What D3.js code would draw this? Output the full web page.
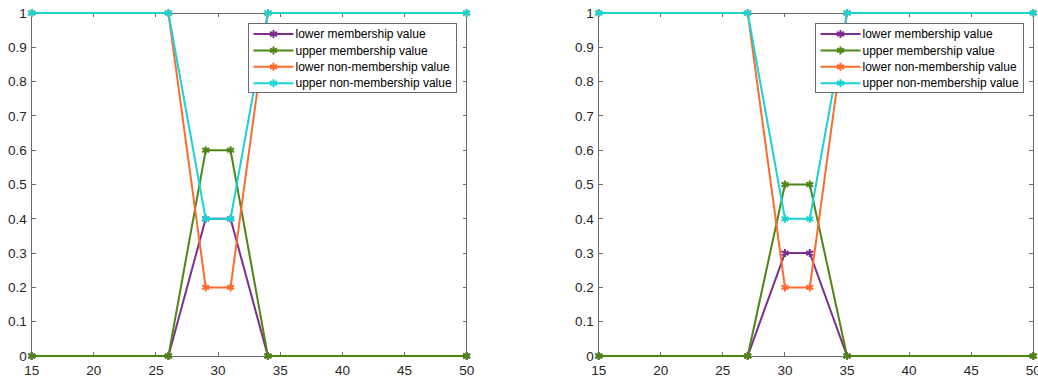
<!DOCTYPE html>
<html><head><meta charset="utf-8">
<script src="https://cdn.jsdelivr.net/npm/d3@7"></script>
<style>body{margin:0;background:#fff}svg{display:block}</style>
</head><body>
<svg id="c" width="1038" height="377"></svg>
<script>
// Left panel
const xLeft = [15, 26, 29, 31, 34, 50];
const lowerMemLeft = [0, 0, 0.4, 0.4, 0, 0];
const upperMemLeft = [0, 0, 0.6, 0.6, 0, 0];
const lowerNonLeft = [1, 1, 0.2, 0.2, 1, 1];
const upperNonLeft = [1, 1, 0.4, 0.4, 1, 1];
// Right panel
const xRight = [15, 27, 30, 32, 35, 50];
const lowerMemRight = [0, 0, 0.3, 0.3, 0, 0];
const upperMemRight = [0, 0, 0.5, 0.5, 0, 0];
const lowerNonRight = [1, 1, 0.2, 0.2, 1, 1];
const upperNonRight = [1, 1, 0.4, 0.4, 1, 1];

const seriesNames = ["lower membership value", "upper membership value", "lower non-membership value", "upper non-membership value"];
const seriesColors = ["#7E2F8E", "#4D8516", "#FF6B2C", "#1AD3D3"];
const xTicks = [15, 20, 25, 30, 35, 40, 45, 50];
const yTicks = [0, 0.1, 0.2, 0.3, 0.4, 0.5, 0.6, 0.7, 0.8, 0.9, 1];

const svg = d3.select("#c");
const axisColor = "#6b6b6b";
const font = "Liberation Sans, Arial, sans-serif";

function panel(left, right, xs, series, legendX) {
  const top = 13, bottom = 356;
  const x = d3.scaleLinear().domain([15, 50]).range([left, right]);
  const y = d3.scaleLinear().domain([0, 1]).range([bottom, top]);
  const g = svg.append("g");
  g.append("rect").attr("x", left).attr("y", top).attr("width", right - left).attr("height", bottom - top)
    .attr("fill", "none").attr("stroke", axisColor).attr("stroke-width", 1).attr("shape-rendering", "crispEdges");
  const tl = 4;
  xTicks.forEach(t => {
    g.append("line").attr("x1", x(t)).attr("x2", x(t)).attr("y1", bottom).attr("y2", bottom - tl)
      .attr("stroke", axisColor).attr("shape-rendering", "crispEdges");
    g.append("line").attr("x1", x(t)).attr("x2", x(t)).attr("y1", top).attr("y2", top + tl)
      .attr("stroke", axisColor).attr("shape-rendering", "crispEdges");
    g.append("text").attr("x", x(t)).attr("y", bottom + 19).attr("text-anchor", "middle")
      .attr("font-family", font).attr("font-size", 13.5).attr("fill", "#262626").text(t);
  });
  yTicks.forEach(t => {
    g.append("line").attr("x1", left).attr("x2", left + tl).attr("y1", y(t)).attr("y2", y(t))
      .attr("stroke", axisColor).attr("shape-rendering", "crispEdges");
    g.append("line").attr("x1", right).attr("x2", right - tl).attr("y1", y(t)).attr("y2", y(t))
      .attr("stroke", axisColor).attr("shape-rendering", "crispEdges");
    g.append("text").attr("x", left - 5).attr("y", y(t) + 4.7).attr("text-anchor", "end")
      .attr("font-family", font).attr("font-size", 13.5).attr("fill", "#262626").text(d3.format("")(t));
  });
  const line = d3.line().x(d => x(d[0])).y(d => y(d[1]));
  const sym = d3.symbol().type(d3.symbolAsterisk).size(45);
  series.forEach((vals, i) => {
    const pts = xs.map((xv, j) => [xv, vals[j]]);
    g.append("path").attr("d", line(pts)).attr("fill", "none")
      .attr("stroke", seriesColors[i]).attr("stroke-width", 2);
    pts.forEach(p => {
      g.append("path").attr("d", sym()).attr("transform", `translate(${x(p[0])},${y(p[1])})`)
        .attr("fill", "none").attr("stroke", seriesColors[i]).attr("stroke-width", 2);
    });
  });
  const lw = 208, lh = 69, ly = 23;
  const lg = g.append("g").attr("transform", `translate(${legendX},${ly})`);
  lg.append("rect").attr("x", 0).attr("y", 0).attr("width", lw).attr("height", lh)
    .attr("fill", "#fff").attr("stroke", axisColor).attr("shape-rendering", "crispEdges");
  seriesNames.forEach((n, i) => {
    const cy = 11 + i * 16.4;
    lg.append("line").attr("x1", 5).attr("x2", 45).attr("y1", cy).attr("y2", cy)
      .attr("stroke", seriesColors[i]).attr("stroke-width", 2);
    lg.append("path").attr("d", sym()).attr("transform", `translate(25,${cy})`)
      .attr("fill", "none").attr("stroke", seriesColors[i]).attr("stroke-width", 2);
    lg.append("text").attr("x", 47).attr("y", cy + 4.2).attr("font-family", font).attr("font-size", 12)
      .attr("fill", "#000").text(n);
  });
}

panel(31.7, 466.7, xLeft, [lowerMemLeft, upperMemLeft, lowerNonLeft, upperNonLeft], 248.5);
panel(598.7, 1033.3, xRight, [lowerMemRight, upperMemRight, lowerNonRight, upperNonRight], 815.5);
</script>
</body></html>
